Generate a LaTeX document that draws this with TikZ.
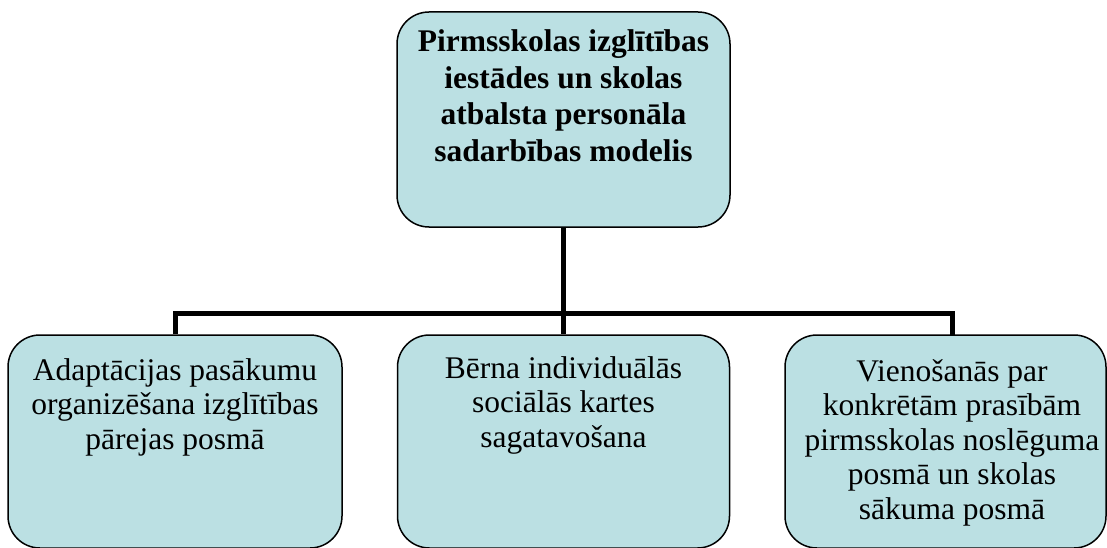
\documentclass[tikz,border=0pt]{standalone}
\usepackage{fontspec}
\setmainfont{Liberation Serif}
\definecolor{boxfill}{RGB}{187,224,227}
\newcommand{\topfont}{\fontsize{31.5}{36.5}\selectfont\bfseries}
\newcommand{\botfont}{\fontsize{31.5}{34.5}\selectfont}
\begin{document}
\begin{tikzpicture}[x=1pt,y=-1pt,
  box/.style={draw=black, line width=1.5pt, fill=boxfill, rounded corners=32pt, inner sep=0pt},
  txt/.style={anchor=base, inner sep=0pt},
  conn/.style={draw=black, line width=5pt, line join=miter}]
\useasboundingbox (0,0) rectangle (1107,548);
% boxes
\node[box, minimum width=333pt, minimum height=215pt] (top) at (563.5,119.5) {};
\node[box, minimum width=334pt, minimum height=213pt] (left) at (175,441.5) {};
\node[box, minimum width=332pt, minimum height=213pt] (mid) at (563.5,441.5) {};
\node[box, minimum width=321pt, minimum height=213pt] (right) at (945.5,441.5) {};
% texts
\node[txt] (ttop) at (563.5,52) {\parbox[t]{330pt}{\centering\topfont Pirmsskolas izglītības\\ iestādes un skolas\\ atbalsta personāla\\ sadarbības modelis}};
\node[txt] (tleft) at (175,380) {\parbox[t]{330pt}{\centering\botfont Adaptācijas pasākumu\\ organizēšana izglītības\\ pārejas posmā}};
\node[txt] (tmid) at (563.5,378) {\parbox[t]{330pt}{\centering\botfont Bērna individuālās\\ sociālās kartes\\ sagatavošana}};
\node[txt] (tright) at (952,381) {\parbox[t]{330pt}{\centering\botfont Vienošanās par\\ konkrētām prasībām\\ pirmsskolas noslēguma\\ posmā un skolas\\ sākuma posmā}};
% connectors
\coordinate (jR) at (952,313);
\coordinate (dR) at (952,335);
\draw[conn] (top.south) -- (mid.north);
\draw[conn] (left.north) |- (jR) -- (dR);
\end{tikzpicture}
\end{document}
